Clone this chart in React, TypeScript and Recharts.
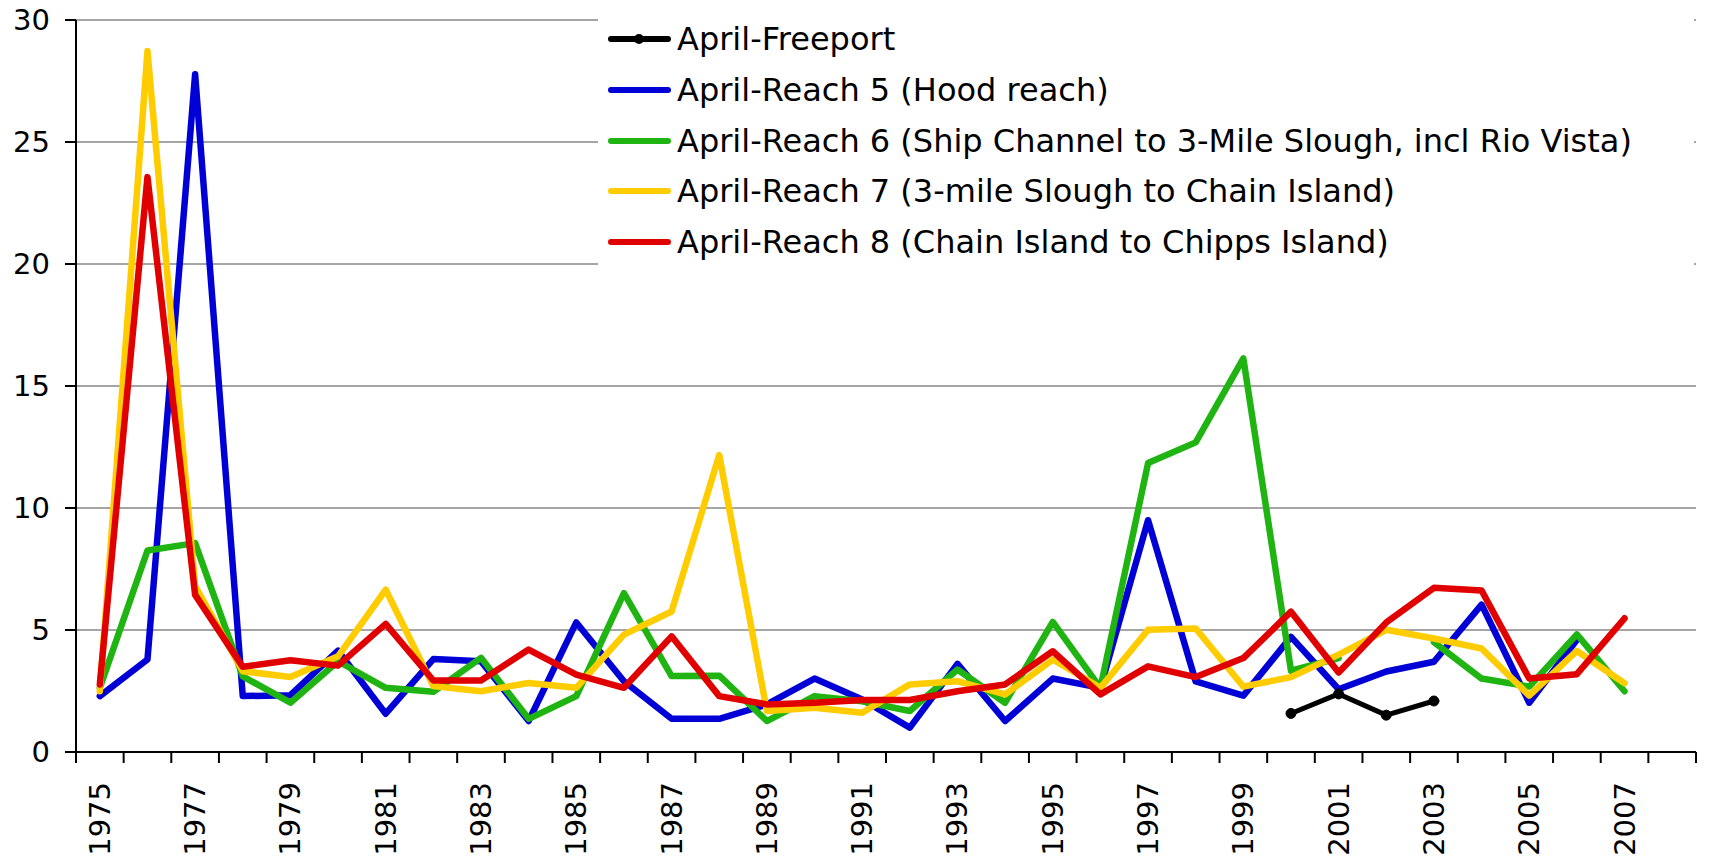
import { CartesianGrid, Legend, Line, LineChart, XAxis, YAxis } from 'recharts';

const YEARS = [
  1975, 1976, 1977, 1978, 1979, 1980, 1981, 1982, 1983, 1984, 1985, 1986,
  1987, 1988, 1989, 1990, 1991, 1992, 1993, 1994, 1995, 1996, 1997, 1998,
  1999, 2000, 2001, 2002, 2003, 2004, 2005, 2006, 2007, 2008,
];

const FREEPORT = [
  null, null, null, null, null, null, null, null, null, null, null, null,
  null, null, null, null, null, null, null, null, null, null, null, null,
  null, 1.58, 2.38, 1.51, 2.09, null, null, null, null, null,
];

const REACH5 = [
  2.29, 3.79, 27.78, 2.29, 2.33, 4.15, 1.57, 3.81, 3.72, 1.27, 5.31, 2.9,
  1.36, 1.36, 1.95, 3.01, 2.15, 1.0, 3.61, 1.27, 3.01, 2.63, 9.5, 2.89,
  2.31, 4.72, 2.57, 3.3, 3.7, 6.04, 2.02, 4.6, null, null,
];

const REACH6 = [
  2.63, 8.26, 8.56, 3.1, 2.02, 3.72, 2.63, 2.47, 3.86, 1.36, 2.29, 6.51,
  3.11, 3.13, 1.27, 2.29, 2.08, 1.68, 3.38, 2.02, 5.33, 2.63, 11.84, 12.69,
  16.13, 3.33, 3.85, null, 4.5, 3.01, 2.68, 4.82, 2.49, null,
];

const REACH7 = [
  2.49, 28.73, 6.8, 3.31, 3.07, 3.92, 6.65, 2.7, 2.49, 2.83, 2.63, 4.81,
  5.76, 12.17, 1.68, 1.81, 1.61, 2.77, 2.9, 2.36, 3.79, 2.63, 5.01, 5.06,
  2.68, 3.07, 3.99, 5.01, 4.65, 4.24, 2.31, 4.14, 2.82, null,
];

const REACH8 = [
  2.77, 23.56, 6.44, 3.49, 3.76, 3.54, 5.25, 2.93, 2.93, 4.2, 3.17, 2.63,
  4.74, 2.29, 1.95, 2.02, 2.13, 2.13, 2.49, 2.77, 4.13, 2.36, 3.51, 3.07,
  3.85, 5.75, 3.26, 5.31, 6.73, 6.62, 3.01, 3.19, 5.48, null,
];

const Y_TICKS = [0, 5, 10, 15, 20, 25, 30];

const SERIES = [
  { key: 'freeport', name: 'April-Freeport', color: '#000000', values: FREEPORT, width: 5, dot: true },
  { key: 'reach5', name: 'April-Reach 5 (Hood reach)', color: '#0000d6', values: REACH5, width: 6.5, dot: false },
  { key: 'reach6', name: 'April-Reach 6 (Ship Channel to 3-Mile Slough, incl Rio Vista)', color: '#1fb412', values: REACH6, width: 6.5, dot: false },
  { key: 'reach7', name: 'April-Reach 7 (3-mile Slough to Chain Island)', color: '#ffcc00', values: REACH7, width: 6.5, dot: false },
  { key: 'reach8', name: 'April-Reach 8 (Chain Island to Chipps Island)', color: '#e00000', values: REACH8, width: 6.5, dot: false },
];

const data = YEARS.map((year, i) => {
  const row: Record<string, number | null> = { year };
  SERIES.forEach((s) => {
    row[s.key] = s.values[i];
  });
  return row;
});

const W = 1712;
const H = 860;
const M = { top: 20, right: 16, left: 0, bottom: 4 };
const Y_AXIS_W = 76;
const X_AXIS_H = 104;
const BAND = (W - M.left - M.right - Y_AXIS_W) / YEARS.length;
const FONT = '"DejaVu Sans", Verdana, sans-serif';

function XTick(props: any) {
  const { x, y, payload, index } = props;
  const half = BAND / 2;
  const showLabel = index % 2 === 0 && payload.value !== 2008;
  return (
    <g>
      <line x1={x - half} x2={x - half} y1={y} y2={y + 11} stroke="#000" strokeWidth={2} />
      {index === YEARS.length - 1 && (
        <line x1={x + half} x2={x + half} y1={y} y2={y + 11} stroke="#000" strokeWidth={2} />
      )}
      {showLabel && (
        <text
          x={x}
          y={y + 30}
          transform={`rotate(-90, ${x}, ${y + 30})`}
          textAnchor="end"
          dominantBaseline="central"
          fontSize={29}
          fontFamily={FONT}
          fill="#000"
        >
          {payload.value}
        </text>
      )}
    </g>
  );
}

function LegendBox() {
  return (
    <div style={{ position: 'relative', width: '100%', height: '100%', background: '#fff' }}>
      {SERIES.map((s, i) => (
        <div
          key={s.key}
          style={{
            position: 'absolute',
            left: 0,
            top: 39 - 25 + i * 50.8,
            height: 50,
            display: 'flex',
            alignItems: 'center',
            whiteSpace: 'nowrap',
          }}
        >
          <svg width={79} height={20} style={{ display: 'block' }}>
            <line x1={13} x2={70} y1={10} y2={10} stroke={s.color} strokeWidth={6} strokeLinecap="round" />
            {s.dot && <circle cx={41} cy={10} r={5} fill={s.color} />}
          </svg>
          <span style={{ fontFamily: FONT, fontSize: 32, color: '#000' }}>{s.name}</span>
        </div>
      ))}
    </div>
  );
}

export default function App() {
  return (
    <div style={{ position: 'fixed', left: 0, top: 0, width: W, height: H, background: '#fff' }}>
      <LineChart width={W} height={H} data={data} margin={M}>
        <CartesianGrid horizontal vertical={false} stroke="#4d4d4d" strokeWidth={1} />
        <XAxis
          dataKey="year"
          height={X_AXIS_H}
          interval={0}
          padding={{ left: BAND / 2, right: BAND / 2 }}
          tickLine={false}
          tickSize={0}
          tickMargin={0}
          axisLine={{ stroke: '#000', strokeWidth: 2 }}
          tick={<XTick />}
        />
        <YAxis
          domain={[0, 30]}
          ticks={Y_TICKS}
          width={Y_AXIS_W}
          tickSize={11}
          tickMargin={15}
          axisLine={{ stroke: '#000', strokeWidth: 2 }}
          tickLine={{ stroke: '#000', strokeWidth: 2 }}
          tick={{ fontSize: 29, fontFamily: FONT, fill: '#000' }}
        />
        <Legend
          layout="vertical"
          align="center"
          verticalAlign="middle"
          content={<LegendBox />}
          wrapperStyle={{ left: 598, top: 0, width: 1096, height: 275 }}
        />
        {SERIES.map((s) => (
          <Line
            key={s.key}
            dataKey={s.key}
            name={s.name}
            stroke={s.color}
            strokeWidth={s.width}
            strokeLinejoin="round"
            strokeLinecap="round"
            dot={s.dot ? { r: 5, fill: s.color, stroke: s.color, strokeWidth: 1 } : false}
            activeDot={false}
            connectNulls={false}
            isAnimationActive={false}
          />
        ))}
      </LineChart>
    </div>
  );
}
